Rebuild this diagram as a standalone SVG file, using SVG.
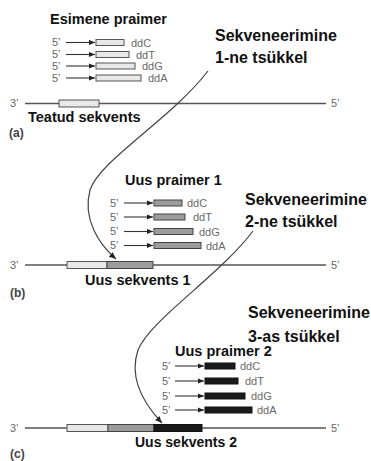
<svg xmlns="http://www.w3.org/2000/svg" width="371" height="461" viewBox="0 0 371 461">
  <style>
    .title { font-family: "Liberation Sans", Arial, sans-serif; font-weight: bold; fill: #111; }
    .cycle { font-family: "Liberation Sans", Arial, sans-serif; font-weight: bold; font-size: 16px; fill: #111; }
    .end { font-family: "Liberation Sans", Arial, sans-serif; font-size: 11px; fill: #666; }
    .dd { font-family: "Liberation Sans", Arial, sans-serif; font-size: 11px; fill: #6a6a6a; }
    .panel { font-family: "Liberation Sans", Arial, sans-serif; font-weight: bold; font-size: 12px; fill: #444; }
    .strand { stroke: #555; stroke-width: 1.4; fill: none; }
    .shaft { stroke: #333; stroke-width: 1.1; fill: none; marker-end: url(#tip); }
    .loop { stroke: #444; stroke-width: 1.2; fill: none; marker-end: url(#bigTip); }
    .light { fill: #e8e8e8; stroke: #555; stroke-width: 1; }
    .mid { fill: #9c9c9c; stroke: #444; stroke-width: 1; }
    .dark { fill: #1a1a1a; stroke: #111; stroke-width: 1; }
  </style>
  <defs>
    <marker id="tip" viewBox="0 0 6 6" refX="6" refY="3" markerWidth="6" markerHeight="6" markerUnits="userSpaceOnUse" orient="auto">
      <path d="M0,0.4 L6,3 L0,5.6 z" fill="#222"/>
    </marker>
    <marker id="bigTip" viewBox="0 0 7 7" refX="7" refY="3.5" markerWidth="7" markerHeight="7" markerUnits="userSpaceOnUse" orient="auto">
      <path d="M0,0.5 L7,3.5 L0,6.5 z" fill="#222"/>
    </marker>
  </defs>

  <!-- (a) first primer set -->
  <g id="primers-a">
    <text class="title" x="50" y="24" font-size="14.5">Esimene praimer</text>
    <text class="end" x="52" y="46">5’</text>
    <line class="shaft" x1="66" y1="42.5" x2="95" y2="42.5"/>
    <rect class="light" x="96" y="39.5" width="28" height="6"/>
    <text class="dd" x="131" y="46.5">ddC</text>
    <text class="end" x="52" y="58">5’</text>
    <line class="shaft" x1="66" y1="54.5" x2="95" y2="54.5"/>
    <rect class="light" x="96" y="51.5" width="33" height="6"/>
    <text class="dd" x="136" y="58.5">ddT</text>
    <text class="end" x="52" y="69.5">5’</text>
    <line class="shaft" x1="66" y1="66" x2="95" y2="66"/>
    <rect class="light" x="96" y="63" width="39" height="6"/>
    <text class="dd" x="142" y="70">ddG</text>
    <text class="end" x="52" y="81.5">5’</text>
    <line class="shaft" x1="66" y1="78" x2="95" y2="78"/>
    <rect class="light" x="96" y="75" width="45" height="6"/>
    <text class="dd" x="148" y="82">ddA</text>
  </g>

  <g id="template-a">
    <text class="end" x="10" y="107">3’</text>
    <line class="strand" x1="25" y1="103.5" x2="326" y2="103.5"/>
    <text class="end" x="331" y="107">5’</text>
    <rect class="light" x="59" y="100" width="40" height="7"/>
    <text class="title" x="28" y="122" font-size="14.5">Teatud sekvents</text>
    <text class="panel" x="9" y="137">(a)</text>
  </g>

  <g id="cycle-1">
    <text class="cycle" x="215" y="41">Sekveneerimine</text>
    <text class="cycle" x="215" y="63">1-ne tsükkel</text>
  </g>

  <!-- (b) second primer set -->
  <g id="primers-b">
    <text class="title" x="125" y="185" font-size="14.5">Uus praimer 1</text>
    <text class="end" x="110" y="206.5">5’</text>
    <line class="shaft" x1="124" y1="203" x2="153" y2="203"/>
    <rect class="mid" x="154" y="200" width="28" height="6"/>
    <text class="dd" x="187" y="207">ddC</text>
    <text class="end" x="110" y="220.5">5’</text>
    <line class="shaft" x1="124" y1="217" x2="153" y2="217"/>
    <rect class="mid" x="154" y="214" width="31" height="6"/>
    <text class="dd" x="193" y="221">ddT</text>
    <text class="end" x="110" y="235">5’</text>
    <line class="shaft" x1="124" y1="231.5" x2="153" y2="231.5"/>
    <rect class="mid" x="154" y="228.5" width="39" height="6"/>
    <text class="dd" x="199" y="235.5">ddG</text>
    <text class="end" x="110" y="249">5’</text>
    <line class="shaft" x1="124" y1="245.5" x2="153" y2="245.5"/>
    <rect class="mid" x="154" y="242.5" width="47" height="6"/>
    <text class="dd" x="206" y="249.5">ddA</text>
  </g>

  <g id="template-b">
    <text class="end" x="10" y="268.5">3’</text>
    <line class="strand" x1="25" y1="265" x2="326" y2="265"/>
    <text class="end" x="331" y="268.5">5’</text>
    <rect class="light" x="67" y="261.5" width="40" height="7"/>
    <rect class="mid" x="107" y="261.5" width="46" height="7"/>
    <text class="title" x="85" y="285" font-size="14.5">Uus sekvents 1</text>
    <text class="panel" x="10" y="297">(b)</text>
  </g>

  <g id="cycle-2">
    <text class="cycle" x="245" y="205">Sekveneerimine</text>
    <text class="cycle" x="245" y="227">2-ne tsükkel</text>
  </g>

  <!-- (c) third primer set -->
  <g id="primers-c">
    <text class="title" x="175" y="356" font-size="14.5">Uus praimer 2</text>
    <text class="end" x="162" y="369.5">5’</text>
    <line class="shaft" x1="175" y1="366" x2="204" y2="366"/>
    <rect class="dark" x="205" y="363" width="30" height="6"/>
    <text class="dd" x="240" y="370">ddC</text>
    <text class="end" x="162" y="384.5">5’</text>
    <line class="shaft" x1="175" y1="381" x2="204" y2="381"/>
    <rect class="dark" x="205" y="378" width="33" height="6"/>
    <text class="dd" x="245" y="385">ddT</text>
    <text class="end" x="162" y="399.5">5’</text>
    <line class="shaft" x1="175" y1="396" x2="204" y2="396"/>
    <rect class="dark" x="205" y="393" width="40" height="6"/>
    <text class="dd" x="251" y="400">ddG</text>
    <text class="end" x="162" y="413.5">5’</text>
    <line class="shaft" x1="175" y1="410" x2="204" y2="410"/>
    <rect class="dark" x="205" y="407" width="47" height="6"/>
    <text class="dd" x="257" y="414">ddA</text>
  </g>

  <g id="template-c">
    <text class="end" x="10" y="431.5">3’</text>
    <line class="strand" x1="25" y1="428" x2="326" y2="428"/>
    <text class="end" x="331" y="431.5">5’</text>
    <rect class="light" x="67" y="424.5" width="41" height="7"/>
    <rect class="mid" x="108" y="424.5" width="46" height="7"/>
    <rect class="dark" x="154" y="424.5" width="48" height="7"/>
    <text class="title" x="135" y="447" font-size="14">Uus sekvents 2</text>
    <text class="panel" x="10" y="458">(c)</text>
  </g>

  <g id="cycle-3">
    <text class="cycle" x="248" y="318">Sekveneerimine</text>
    <text class="cycle" x="248" y="342">3-as tsükkel</text>
  </g>

  <!-- cycle arrows leading each new primer onto the template -->
  <g id="connectors">
    <path class="loop" d="M208,71 C170,120 100,160 90,190 C82,220 100,245 116,259"/>
    <path class="loop" d="M253,231 C220,275 150,320 138,350 C128,380 145,405 162,423"/>
  </g>
</svg>
